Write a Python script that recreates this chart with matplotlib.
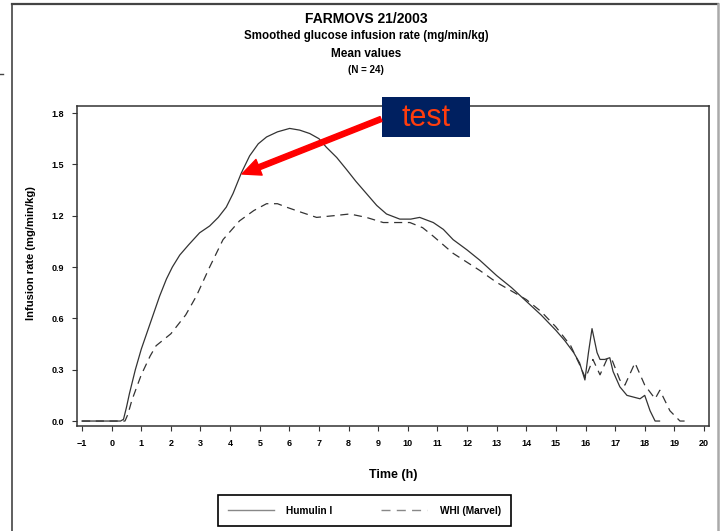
import matplotlib
matplotlib.use("Agg")
import matplotlib.pyplot as plt
from matplotlib.lines import Line2D
from matplotlib.patches import Rectangle, FancyArrowPatch

plt.rcParams['font.family'] = ['Liberation Sans', 'DejaVu Sans']
plt.rcParams['font.weight'] = 'bold'

# Humulin I (solid)
t_hum = [-1, 0.3, 0.4, 0.5, 0.6, 0.8, 1.0, 1.3, 1.62, 1.85, 2.05, 2.3, 2.6, 2.97, 3.31,
         3.6, 3.87, 4.1, 4.38, 4.66, 4.95, 5.23, 5.6, 6.01, 6.35, 6.69, 7.0, 7.25, 7.6,
         7.93, 8.25, 8.6, 8.95, 9.28, 9.73, 10.1, 10.4, 10.86, 11.2, 11.53, 12.0,
         12.43, 13.0, 13.5, 14.0, 14.5, 15.0, 15.3, 15.6, 15.8, 15.98, 16.1, 16.22,
         16.39, 16.49, 16.65, 16.82, 16.93, 17.16, 17.4, 17.84, 18.0, 18.18, 18.35, 18.5]
gir_hum = [0, 0, 0.01, 0.08, 0.16, 0.30, 0.42, 0.57, 0.73, 0.83, 0.90, 0.97, 1.03, 1.10, 1.14,
           1.19, 1.25, 1.33, 1.45, 1.55, 1.62, 1.66, 1.69, 1.71, 1.70, 1.68, 1.65, 1.60, 1.54,
           1.47, 1.40, 1.33, 1.26, 1.21, 1.18, 1.18, 1.19, 1.16, 1.12, 1.06, 1.00,
           0.94, 0.85, 0.78, 0.70, 0.62, 0.53, 0.47, 0.40, 0.34, 0.24, 0.40, 0.54,
           0.40, 0.36, 0.36, 0.37, 0.29, 0.20, 0.15, 0.13, 0.15, 0.06, 0.0, 0.0]

# WHI (Marvel) (dashed)
t_whi = [-1, 0.45, 0.55, 0.68, 0.85, 1.0, 1.3, 1.5, 2.0, 2.5, 2.86, 3.31, 3.76, 4.32,
         4.8, 5.23, 5.6, 5.9, 6.4, 6.92, 7.5, 8.04, 8.6, 9.17, 10.07, 10.5, 10.86,
         11.53, 12.43, 13.0, 13.5, 14.0, 14.5, 15.0, 15.5, 15.8, 16.0, 16.25, 16.49,
         16.72, 16.89, 17.16, 17.33, 17.67, 18.0, 18.35, 18.51, 18.85, 19.19, 19.36]
gir_whi = [0, 0, 0.04, 0.12, 0.20, 0.27, 0.38, 0.44, 0.51, 0.62, 0.73, 0.90, 1.06, 1.17,
           1.23, 1.27, 1.27, 1.25, 1.22, 1.19, 1.20, 1.21, 1.19, 1.16, 1.16, 1.13, 1.08,
           0.98, 0.88, 0.81, 0.76, 0.71, 0.64, 0.55, 0.44, 0.33, 0.25, 0.36, 0.27,
           0.36, 0.36, 0.24, 0.21, 0.34, 0.21, 0.13, 0.18, 0.06, 0.0, 0.0]

x_ticks = list(range(-1, 21))
y_ticks = [0.0, 0.3, 0.6, 0.9, 1.2, 1.5, 1.8]

W, H = 721, 531
fig = plt.figure(figsize=(W / 100, H / 100), dpi=100)


def fx(px):
    return px / W


def fy(py):
    return 1 - py / H


ax = fig.add_axes([fx(77), fy(426), fx(709) - fx(77), fy(106) - fy(426)])
ax.plot(t_hum, gir_hum, color='#333333', lw=0.9)
ax.plot(t_whi, gir_whi, color='#333333', lw=0.9, dashes=(6.5, 4.5))

ax.set_xlim(-1.17, 20.17)
ax.set_ylim(-0.029, 1.841)
ax.set_xticks(x_ticks)
ax.set_yticks(y_ticks)
ax.set_yticklabels(['%.1f' % v for v in y_ticks])
ax.tick_params(axis='both', direction='out', length=3.5, width=0.8, color='#333333',
               labelsize=6.5, pad=6)
for s in ax.spines.values():
    s.set_linewidth(1.1)
    s.set_color('#333333')

# titles
fig.text(fx(366), fy(19), 'FARMOVS 21/2003', ha='center', va='center', fontsize=10)
fig.text(fx(366), fy(36), 'Smoothed glucose infusion rate (mg/min/kg)', ha='center',
         va='center', fontsize=8.3)
fig.text(fx(366), fy(54), 'Mean values', ha='center', va='center', fontsize=8.5)
fig.text(fx(366), fy(70), '(N = 24)', ha='center', va='center', fontsize=7)

fig.text(fx(31), fy(253), 'Infusion rate (mg/min/kg)', rotation=90, ha='center',
         va='center', fontsize=8)
fig.text(fx(393), fy(475), 'Time (h)', ha='center', va='center', fontsize=9)

# legend
handles = [Line2D([], [], color='#888888', lw=1.0),
           Line2D([], [], color='#888888', lw=1.0, dashes=(6.5, 4.5))]
leg = fig.legend(handles, ['Humulin I', 'WHI (Marvel)'], loc='center',
                 bbox_to_anchor=(fx(364.5), fy(510.5)), ncol=2, fontsize=7.3,
                 handlelength=4.5, handletextpad=1.27, columnspacing=4.8,
                 borderpad=1.0, fancybox=False, framealpha=1)
leg.get_frame().set_edgecolor('black')
leg.get_frame().set_linewidth(1.2)

# outer frame
fig.add_artist(Line2D([fx(12), fx(12)], [fy(4), 0], color='#444444', lw=1.2))
fig.add_artist(Line2D([fx(12), fx(718)], [fy(4), fy(4)], color='#444444', lw=1.6))
fig.add_artist(Line2D([fx(718), fx(718)], [fy(4), 0], color='#aaaaaa', lw=1.8))
fig.add_artist(Line2D([0, fx(3)], [fy(74), fy(74)], color='#444444', lw=1.0))

# annotation box and arrow
fig.add_artist(Rectangle((fx(382), fy(137)), fx(470) - fx(382), fy(97) - fy(137),
                         transform=fig.transFigure, facecolor='#002060',
                         edgecolor='none', zorder=5))
fig.text(fx(426), fy(118), 'test', ha='center', va='center', fontsize=22,
         fontweight='normal', color='#ff3d0d', zorder=6)
fig.add_artist(FancyArrowPatch((fx(381), fy(119)), (fx(242), fy(174)),
                               transform=fig.transFigure,
                               arrowstyle='simple,head_length=0.6,head_width=0.55,tail_width=0.17',
                               mutation_scale=22, color='#ff0000', shrinkA=0, shrinkB=0,
                               zorder=6))

fig.savefig('out.png', dpi=100)
